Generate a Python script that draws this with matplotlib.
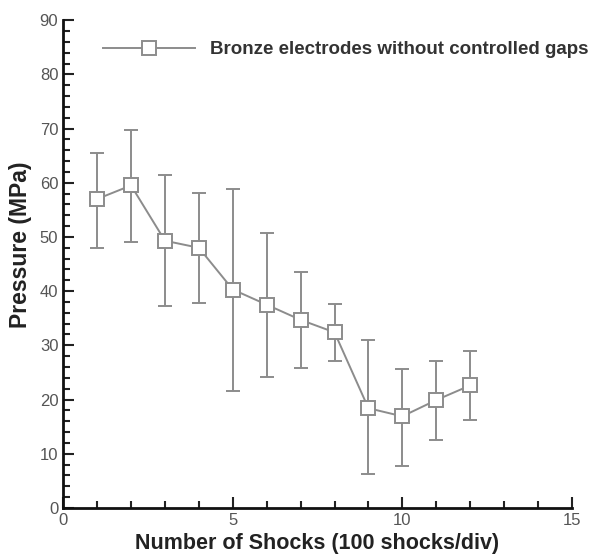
import matplotlib.pyplot as plt
from matplotlib.ticker import MultipleLocator
from matplotlib.lines import Line2D

# data
shocks = [1, 2, 3, 4, 5, 6, 7, 8, 9, 10, 11, 12]
pressure = [57.0, 59.5, 49.3, 48.0, 40.3, 37.5, 34.7, 32.4, 18.4, 16.9, 19.9, 22.6]
err_low = [48.0, 49.0, 37.3, 37.8, 21.5, 24.2, 25.8, 27.2, 6.2, 7.8, 12.6, 16.2]
err_high = [65.5, 69.7, 61.5, 58.2, 58.8, 50.8, 43.6, 37.6, 30.9, 25.7, 27.2, 29.0]

yerr = [[p - lo for p, lo in zip(pressure, err_low)],
        [hi - p for p, hi in zip(pressure, err_high)]]

plt.rcParams['font.family'] = ['Liberation Sans', 'DejaVu Sans']

fig = plt.figure(figsize=(6.02, 5.6), dpi=100)
ax = fig.add_axes([0.105, 0.093, 0.845, 0.871])

grey = '#8c8c8c'
ax.errorbar(shocks, pressure, yerr=yerr, color=grey, lw=1.4, capsize=5,
            elinewidth=1.4, capthick=1.4, marker='s', markersize=10,
            markerfacecolor='white', markeredgecolor=grey, markeredgewidth=1.4)

ax.set_xlim(0, 15)
ax.set_ylim(0, 90)
ax.xaxis.set_major_locator(MultipleLocator(5))
ax.xaxis.set_minor_locator(MultipleLocator(1))
ax.yaxis.set_major_locator(MultipleLocator(10))
ax.yaxis.set_minor_locator(MultipleLocator(2))
ax.tick_params(which='both', direction='in', colors='#222222', labelcolor='#555555',
               labelsize=12, width=1.5)
ax.tick_params(which='major', length=8)
ax.tick_params(which='minor', length=5)
ax.spines['top'].set_visible(False)
ax.spines['right'].set_visible(False)
for s in ('left', 'bottom'):
    ax.spines[s].set_linewidth(2)
    ax.spines[s].set_color('#111111')

ax.set_xlabel('Number of Shocks (100 shocks/div)', fontsize=15.5, fontweight='bold',
              color='#222222', labelpad=4)
ax.set_ylabel('Pressure (MPa)', fontsize=16.5, fontweight='bold', color='#222222')
ax.yaxis.set_label_coords(-0.062, 0.539)

handle = Line2D([], [], color=grey, lw=1.4, marker='s', markersize=10,
                markerfacecolor='white', markeredgecolor=grey, markeredgewidth=1.4)
leg = ax.legend([handle], ['Bronze electrodes without controlled gaps'],
                loc='upper left', bbox_to_anchor=(0.079, 0.957), frameon=False,
                handlelength=4.9, fontsize=13.5, handletextpad=0.8,
                borderaxespad=0, borderpad=0)
for t in leg.get_texts():
    t.set_fontweight('bold')
    t.set_color('#333333')

plt.savefig('out.png')
